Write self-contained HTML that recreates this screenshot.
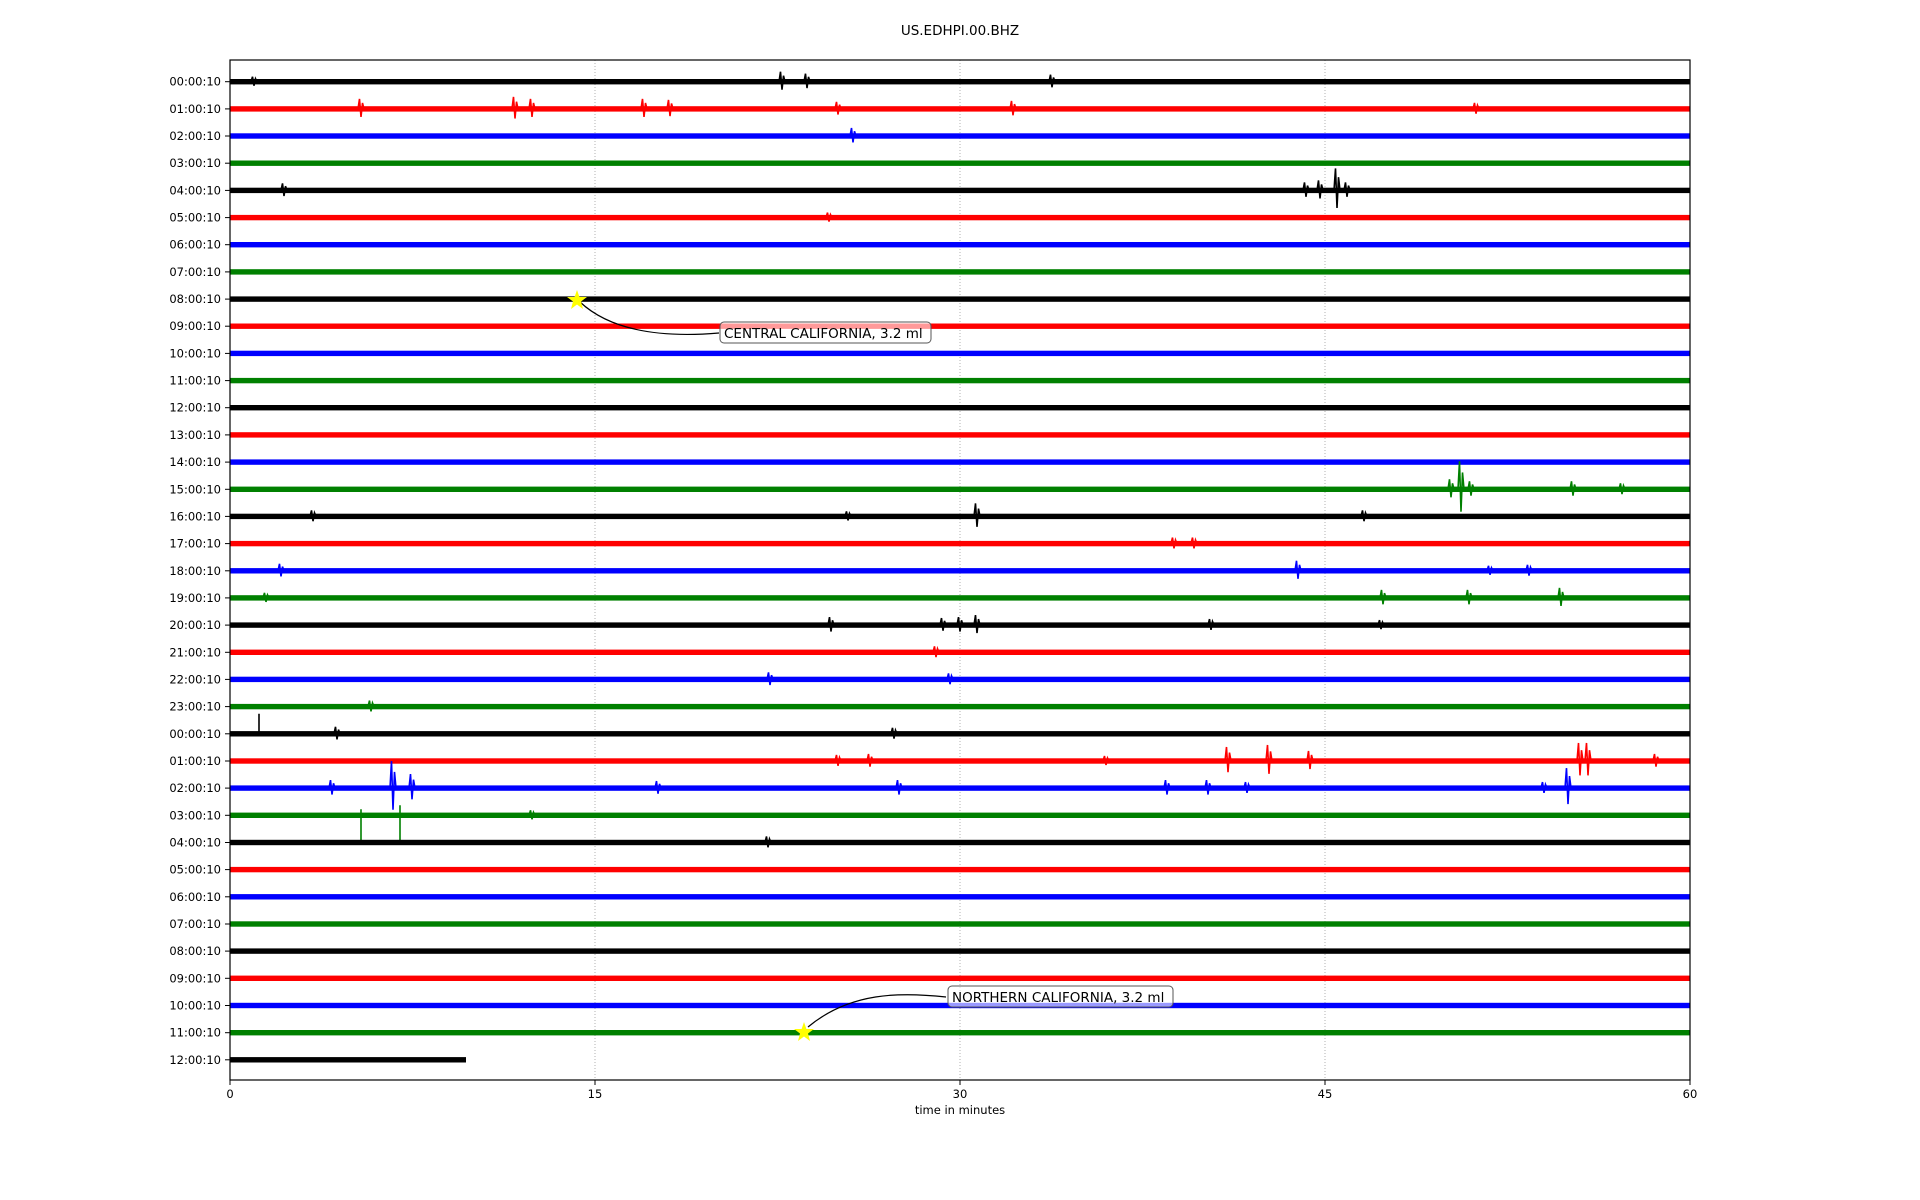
<!DOCTYPE html>
<html><head><meta charset="utf-8"><style>body{margin:0;background:#fff}svg{display:block}text{font-family:"DejaVu Sans","Liberation Sans",sans-serif}.k{fill:#000;stroke:#000}.r{fill:#f00;stroke:#f00}.b{fill:#00f;stroke:#00f}.g{fill:#008000;stroke:#008000}g.row rect{stroke:none}g.row path{fill:none;stroke-width:1.6}g.row text{fill:#000;stroke:none;font-size:11.5px;text-anchor:end}g.row line{stroke:#000}</style></head><body>
<svg width="1920" height="1200" xmlns="http://www.w3.org/2000/svg">
<rect width="1920" height="1200" fill="#fff"/>
<text x="960" y="35" font-size="13.5" text-anchor="middle">US.EDHPI.00.BHZ</text>
<g stroke="#b0b0b0" stroke-width="1" stroke-dasharray="1,2"><line x1="595" y1="60" x2="595" y2="1080"/><line x1="960" y1="60" x2="960" y2="1080"/><line x1="1325" y1="60" x2="1325" y2="1080"/></g>

<g class="row k" transform="translate(0,81.7)"><rect x="230" y="-2.7" width="1460" height="5.4"/><line x1="225" x2="230"/><text x="221" y="4">00:00:10</text><path d="M779 0l1.5 -10l1.5 18l1.5 -14l1.5 6M804 0l1.5 -8l1.5 14.4l1.5 -11.2l1.5 4.8M1049 0l1.5 -7l1.5 12.6l1.5 -9.8l1.5 4.2M251 0l1.5 -5l1.5 9l1.5 -7l1.5 3"/></g>
<g class="row r" transform="translate(0,108.9)"><rect x="230" y="-2.7" width="1460" height="5.4"/><line x1="225" x2="230"/><text x="221" y="4">01:00:10</text><path d="M358 0l1.5 -10l1.5 18l1.5 -14l1.5 6M512 0l1.5 -12l1.5 21.6l1.5 -16.8l1.5 7.2M529 0l1.5 -10l1.5 18l1.5 -14l1.5 6M641 0l1.5 -10l1.5 18l1.5 -14l1.5 6M667 0l1.5 -9l1.5 16.2l1.5 -12.6l1.5 5.4M835 0l1.5 -7l1.5 12.6l1.5 -9.8l1.5 4.2M1010 0l1.5 -8l1.5 14.4l1.5 -11.2l1.5 4.8M1473 0l1.5 -6l1.5 10.8l1.5 -8.4l1.5 3.6"/></g>
<g class="row b" transform="translate(0,136.0)"><rect x="230" y="-2.7" width="1460" height="5.4"/><line x1="225" x2="230"/><text x="221" y="4">02:00:10</text><path d="M850 0l1.5 -8l1.5 14.4l1.5 -11.2l1.5 4.8"/></g>
<g class="row g" transform="translate(0,163.2)"><rect x="230" y="-2.7" width="1460" height="5.4"/><line x1="225" x2="230"/><text x="221" y="4">03:00:10</text></g>
<g class="row k" transform="translate(0,190.4)"><rect x="230" y="-2.7" width="1460" height="5.4"/><line x1="225" x2="230"/><text x="221" y="4">04:00:10</text><path d="M281 0l1.5 -7l1.5 12.6l1.5 -9.8l1.5 4.2M1303 0l1.5 -8l1.5 14.4l1.5 -11.2l1.5 4.8M1317 0l1.5 -10l1.5 18l1.5 -14l1.5 6M1334 0l1.5 -22l1.5 39.6l1.5 -30.8l1.5 13.2M1344 0l1.5 -8l1.5 14.4l1.5 -11.2l1.5 4.8"/></g>
<g class="row r" transform="translate(0,217.6)"><rect x="230" y="-2.7" width="1460" height="5.4"/><line x1="225" x2="230"/><text x="221" y="4">05:00:10</text><path d="M826 0l1.5 -5l1.5 9l1.5 -7l1.5 3"/></g>
<g class="row b" transform="translate(0,244.7)"><rect x="230" y="-2.7" width="1460" height="5.4"/><line x1="225" x2="230"/><text x="221" y="4">06:00:10</text></g>
<g class="row g" transform="translate(0,271.9)"><rect x="230" y="-2.7" width="1460" height="5.4"/><line x1="225" x2="230"/><text x="221" y="4">07:00:10</text></g>
<g class="row k" transform="translate(0,299.1)"><rect x="230" y="-2.7" width="1460" height="5.4"/><line x1="225" x2="230"/><text x="221" y="4">08:00:10</text></g>
<g class="row r" transform="translate(0,326.2)"><rect x="230" y="-2.7" width="1460" height="5.4"/><line x1="225" x2="230"/><text x="221" y="4">09:00:10</text></g>
<g class="row b" transform="translate(0,353.4)"><rect x="230" y="-2.7" width="1460" height="5.4"/><line x1="225" x2="230"/><text x="221" y="4">10:00:10</text></g>
<g class="row g" transform="translate(0,380.6)"><rect x="230" y="-2.7" width="1460" height="5.4"/><line x1="225" x2="230"/><text x="221" y="4">11:00:10</text></g>
<g class="row k" transform="translate(0,407.7)"><rect x="230" y="-2.7" width="1460" height="5.4"/><line x1="225" x2="230"/><text x="221" y="4">12:00:10</text></g>
<g class="row r" transform="translate(0,434.9)"><rect x="230" y="-2.7" width="1460" height="5.4"/><line x1="225" x2="230"/><text x="221" y="4">13:00:10</text></g>
<g class="row b" transform="translate(0,462.1)"><rect x="230" y="-2.7" width="1460" height="5.4"/><line x1="225" x2="230"/><text x="221" y="4">14:00:10</text></g>
<g class="row g" transform="translate(0,489.3)"><rect x="230" y="-2.7" width="1460" height="5.4"/><line x1="225" x2="230"/><text x="221" y="4">15:00:10</text><path d="M1458 0l1.5 -28l1.5 50.4l1.5 -39.2l1.5 16.8M1448 0l1.5 -10l1.5 18l1.5 -14l1.5 6M1468 0l1.5 -8l1.5 14.4l1.5 -11.2l1.5 4.8M1570 0l1.5 -8l1.5 14.4l1.5 -11.2l1.5 4.8M1619 0l1.5 -6l1.5 10.8l1.5 -8.4l1.5 3.6"/></g>
<g class="row k" transform="translate(0,516.4)"><rect x="230" y="-2.7" width="1460" height="5.4"/><line x1="225" x2="230"/><text x="221" y="4">16:00:10</text><path d="M974 0l1.5 -13l1.5 23.4l1.5 -18.2l1.5 7.8M310 0l1.5 -6l1.5 10.8l1.5 -8.4l1.5 3.6M1361 0l1.5 -6l1.5 10.8l1.5 -8.4l1.5 3.6M845 0l1.5 -5l1.5 9l1.5 -7l1.5 3"/></g>
<g class="row r" transform="translate(0,543.6)"><rect x="230" y="-2.7" width="1460" height="5.4"/><line x1="225" x2="230"/><text x="221" y="4">17:00:10</text><path d="M1171 0l1.5 -6l1.5 10.8l1.5 -8.4l1.5 3.6M1191 0l1.5 -6l1.5 10.8l1.5 -8.4l1.5 3.6"/></g>
<g class="row b" transform="translate(0,570.8)"><rect x="230" y="-2.7" width="1460" height="5.4"/><line x1="225" x2="230"/><text x="221" y="4">18:00:10</text><path d="M278 0l1.5 -7l1.5 12.6l1.5 -9.8l1.5 4.2M1295 0l1.5 -10l1.5 18l1.5 -14l1.5 6M1526 0l1.5 -6l1.5 10.8l1.5 -8.4l1.5 3.6M1487 0l1.5 -5l1.5 9l1.5 -7l1.5 3"/></g>
<g class="row g" transform="translate(0,597.9)"><rect x="230" y="-2.7" width="1460" height="5.4"/><line x1="225" x2="230"/><text x="221" y="4">19:00:10</text><path d="M1380 0l1.5 -8l1.5 14.4l1.5 -11.2l1.5 4.8M1466 0l1.5 -8l1.5 14.4l1.5 -11.2l1.5 4.8M1558 0l1.5 -10l1.5 18l1.5 -14l1.5 6M263 0l1.5 -5l1.5 9l1.5 -7l1.5 3"/></g>
<g class="row k" transform="translate(0,625.1)"><rect x="230" y="-2.7" width="1460" height="5.4"/><line x1="225" x2="230"/><text x="221" y="4">20:00:10</text><path d="M828 0l1.5 -8l1.5 14.4l1.5 -11.2l1.5 4.8M940 0l1.5 -7l1.5 12.6l1.5 -9.8l1.5 4.2M957 0l1.5 -8l1.5 14.4l1.5 -11.2l1.5 4.8M974 0l1.5 -10l1.5 18l1.5 -14l1.5 6M1208 0l1.5 -6l1.5 10.8l1.5 -8.4l1.5 3.6M1378 0l1.5 -5l1.5 9l1.5 -7l1.5 3"/></g>
<g class="row r" transform="translate(0,652.3)"><rect x="230" y="-2.7" width="1460" height="5.4"/><line x1="225" x2="230"/><text x="221" y="4">21:00:10</text><path d="M933 0l1.5 -6l1.5 10.8l1.5 -8.4l1.5 3.6"/></g>
<g class="row b" transform="translate(0,679.4)"><rect x="230" y="-2.7" width="1460" height="5.4"/><line x1="225" x2="230"/><text x="221" y="4">22:00:10</text><path d="M767 0l1.5 -7l1.5 12.6l1.5 -9.8l1.5 4.2M947 0l1.5 -6l1.5 10.8l1.5 -8.4l1.5 3.6"/></g>
<g class="row g" transform="translate(0,706.6)"><rect x="230" y="-2.7" width="1460" height="5.4"/><line x1="225" x2="230"/><text x="221" y="4">23:00:10</text><path d="M368 0l1.5 -6l1.5 10.8l1.5 -8.4l1.5 3.6"/></g>
<g class="row k" transform="translate(0,733.8)"><rect x="230" y="-2.7" width="1460" height="5.4"/><line x1="225" x2="230"/><text x="221" y="4">00:00:10</text><path d="M259 0v-20M334 0l1.5 -7l1.5 12.6l1.5 -9.8l1.5 4.2M891 0l1.5 -6l1.5 10.8l1.5 -8.4l1.5 3.6"/></g>
<g class="row r" transform="translate(0,761.0)"><rect x="230" y="-2.7" width="1460" height="5.4"/><line x1="225" x2="230"/><text x="221" y="4">01:00:10</text><path d="M835 0l1.5 -6l1.5 10.8l1.5 -8.4l1.5 3.6M1225 0l1.5 -14l1.5 25.2l1.5 -19.6l1.5 8.4M1266 0l1.5 -16l1.5 28.8l1.5 -22.4l1.5 9.6M1307 0l1.5 -10l1.5 18l1.5 -14l1.5 6M1577 0l1.5 -18l1.5 32.4l1.5 -25.2l1.5 10.8M1585 0l1.5 -18l1.5 32.4l1.5 -25.2l1.5 10.8M1653 0l1.5 -7l1.5 12.6l1.5 -9.8l1.5 4.2M867 0l1.5 -7l1.5 12.6l1.5 -9.8l1.5 4.2M1103 0l1.5 -5l1.5 9l1.5 -7l1.5 3"/></g>
<g class="row b" transform="translate(0,788.1)"><rect x="230" y="-2.7" width="1460" height="5.4"/><line x1="225" x2="230"/><text x="221" y="4">02:00:10</text><path d="M329 0l1.5 -8l1.5 14.4l1.5 -11.2l1.5 4.8M390 0l1.5 -27l1.5 48.6l1.5 -37.8l1.5 16.2M409 0l1.5 -14l1.5 25.2l1.5 -19.6l1.5 8.4M655 0l1.5 -7l1.5 12.6l1.5 -9.8l1.5 4.2M896 0l1.5 -8l1.5 14.4l1.5 -11.2l1.5 4.8M1164 0l1.5 -8l1.5 14.4l1.5 -11.2l1.5 4.8M1205 0l1.5 -8l1.5 14.4l1.5 -11.2l1.5 4.8M1244 0l1.5 -6l1.5 10.8l1.5 -8.4l1.5 3.6M1565 0l1.5 -20l1.5 36l1.5 -28l1.5 12M1541 0l1.5 -6l1.5 10.8l1.5 -8.4l1.5 3.6"/></g>
<g class="row g" transform="translate(0,815.3)"><rect x="230" y="-2.7" width="1460" height="5.4"/><line x1="225" x2="230"/><text x="221" y="4">03:00:10</text><path d="M361 -6v31M400 -10v35M529 0l1.5 -5l1.5 9l1.5 -7l1.5 3"/></g>
<g class="row k" transform="translate(0,842.5)"><rect x="230" y="-2.7" width="1460" height="5.4"/><line x1="225" x2="230"/><text x="221" y="4">04:00:10</text><path d="M765 0l1.5 -6l1.5 10.8l1.5 -8.4l1.5 3.6"/></g>
<g class="row r" transform="translate(0,869.6)"><rect x="230" y="-2.7" width="1460" height="5.4"/><line x1="225" x2="230"/><text x="221" y="4">05:00:10</text></g>
<g class="row b" transform="translate(0,896.8)"><rect x="230" y="-2.7" width="1460" height="5.4"/><line x1="225" x2="230"/><text x="221" y="4">06:00:10</text></g>
<g class="row g" transform="translate(0,924.0)"><rect x="230" y="-2.7" width="1460" height="5.4"/><line x1="225" x2="230"/><text x="221" y="4">07:00:10</text></g>
<g class="row k" transform="translate(0,951.1)"><rect x="230" y="-2.7" width="1460" height="5.4"/><line x1="225" x2="230"/><text x="221" y="4">08:00:10</text></g>
<g class="row r" transform="translate(0,978.3)"><rect x="230" y="-2.7" width="1460" height="5.4"/><line x1="225" x2="230"/><text x="221" y="4">09:00:10</text></g>
<g class="row b" transform="translate(0,1005.5)"><rect x="230" y="-2.7" width="1460" height="5.4"/><line x1="225" x2="230"/><text x="221" y="4">10:00:10</text></g>
<g class="row g" transform="translate(0,1032.7)"><rect x="230" y="-2.7" width="1460" height="5.4"/><line x1="225" x2="230"/><text x="221" y="4">11:00:10</text></g>
<g class="row k" transform="translate(0,1059.8)"><rect x="230" y="-2.7" width="236" height="5.4"/><line x1="225" x2="230"/><text x="221" y="4">12:00:10</text></g>

<rect x="230" y="60" width="1460" height="1020" fill="none" stroke="#000" stroke-width="1.2"/>
<g font-size="11.5" text-anchor="middle">
<line x1="230" y1="1080" x2="230" y2="1085" stroke="#000"/><text x="230" y="1098">0</text>
<line x1="595" y1="1080" x2="595" y2="1085" stroke="#000"/><text x="595" y="1098">15</text>
<line x1="960" y1="1080" x2="960" y2="1085" stroke="#000"/><text x="960" y="1098">30</text>
<line x1="1325" y1="1080" x2="1325" y2="1085" stroke="#000"/><text x="1325" y="1098">45</text>
<line x1="1690" y1="1080" x2="1690" y2="1085" stroke="#000"/><text x="1690" y="1098">60</text>
<text x="960" y="1114">time in minutes</text>
</g>
<path d="M580 302 C610 330 660 338 719 333" stroke="#000" stroke-width="1.2" fill="none"/>
<rect x="720" y="322" width="211" height="21" rx="4" fill="#fff" fill-opacity="0.6" stroke="#555"/>
<text x="724" y="338" font-size="13.5">CENTRAL CALIFORNIA, 3.2 ml</text>
<polygon points="577,290 579.4,297 587,297 581,301.5 583,309 577,304.5 571,309 573,301.5 567,297 574.6,297" fill="#ff0"/>
<path d="M808 1027 C850 992 900 992 946 997" stroke="#000" stroke-width="1.2" fill="none"/>
<rect x="948" y="986" width="225" height="21" rx="4" fill="#fff" fill-opacity="0.6" stroke="#555"/>
<text x="952" y="1002" font-size="13.5">NORTHERN CALIFORNIA, 3.2 ml</text>
<polygon points="804,1022 806.4,1029 814,1029 808,1033.5 810,1041 804,1036.5 798,1041 800,1033.5 794,1029 801.6,1029" fill="#ff0"/>
</svg>
</body></html>
